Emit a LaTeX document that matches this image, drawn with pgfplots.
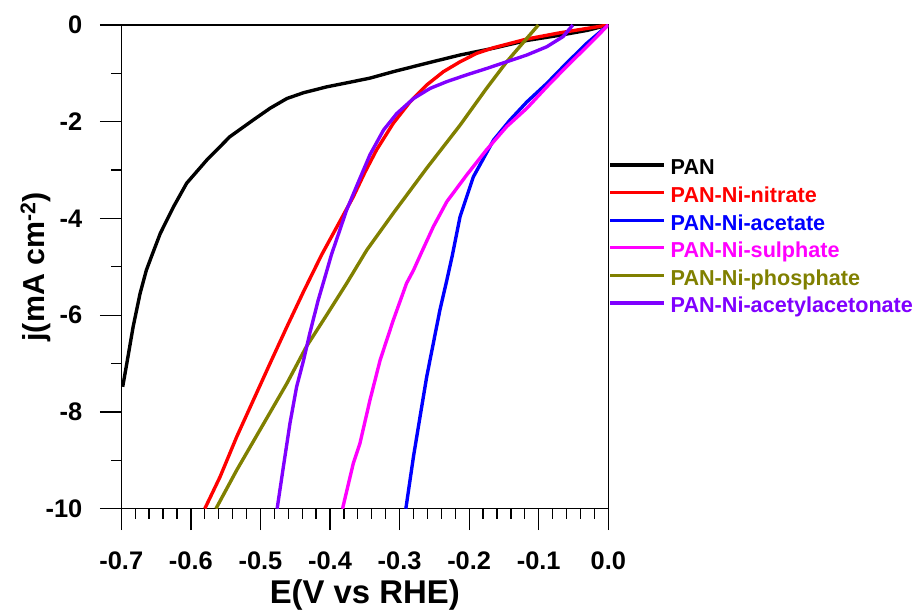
\documentclass[border=0pt]{standalone}
\usepackage{fontspec}
\setmainfont{Liberation Sans}
\usepackage{pgfplots}
\pgfplotsset{compat=1.18}

\definecolor{cblack}{RGB}{0,0,0}
\definecolor{cnitrate}{RGB}{255,0,0}
\definecolor{cacetate}{RGB}{0,0,255}
\definecolor{csulph}{RGB}{255,0,255}
\definecolor{cphos}{RGB}{128,128,0}
\definecolor{cacac}{RGB}{128,0,255}

\begin{document}
\begin{tikzpicture}
\begin{axis}[
  name=ax,
  scale only axis,
  width=487bp, height=483.7bp,
  xmin=-0.7, xmax=0, ymin=-10, ymax=0,
  xtick={-0.7,-0.6,-0.5,-0.4,-0.3,-0.2,-0.1,0},
  minor x tick num=4,
  ytick={-10,-8,-6,-4,-2,0},
  minor ytick={-9,-7,-5,-3,-1},
  xtick pos=bottom, ytick pos=left,
  xtick align=outside, ytick align=outside,
  major tick length=21.5bp, minor tick length=10bp,
  every tick/.append style={black, line width=1.3pt},
  axis line style={line width=1.4pt},
  /pgf/number format/assume math mode=true,
  tick label style={font=\fontsize{25.5}{30}\selectfont\bfseries},
  xticklabel style={yshift=-18bp, /pgf/number format/.cd, fixed, fixed zerofill, precision=1},
  yticklabel style={xshift=-14bp, /pgf/number format/fixed},
  xlabel={E(V vs RHE)},
  ylabel={j(mA cm\textsuperscript{-2})},
  xlabel style={font=\fontsize{33}{38}\selectfont\bfseries,
    at={(axis description cs:0.5,-0.195)}, anchor=base},
  ylabel style={font=\fontsize{30.5}{36}\selectfont\bfseries,
    at={(axis description cs:-0.158,0.5)}, anchor=base},
  legend style={at={(1,0.7234)}, anchor=north west, draw=none, fill=none,
    inner sep=0pt, row sep=0pt, column sep=5bp,
    font=\fontsize{21.7}{26}\selectfont\bfseries,
    nodes={inner sep=0pt, text height=16bp, text depth=11.6bp}},
  legend cell align=left,
  legend image code/.code={\draw[#1, line width=3.2pt] (0bp,7.8bp) -- (54bp,7.8bp);},
]
% PAN
\addplot[cblack, line width=3.4pt] coordinates {
(-0.698,-7.48) (-0.692,-6.99) (-0.683,-6.24) (-0.673,-5.55) (-0.664,-5.07)
(-0.657,-4.80) (-0.644,-4.31) (-0.625,-3.76) (-0.606,-3.27) (-0.577,-2.79)
(-0.544,-2.31) (-0.510,-1.96) (-0.486,-1.72) (-0.462,-1.52) (-0.438,-1.40)
(-0.405,-1.28) (-0.367,-1.17) (-0.343,-1.10) (-0.309,-0.965) (-0.261,-0.79)
(-0.213,-0.62) (-0.165,-0.48) (-0.117,-0.32) (-0.069,-0.21) (-0.030,-0.11) (0,0)};
% PAN-Ni-nitrate
\addplot[cnitrate, line width=3.4pt] coordinates {
(-0.580,-10) (-0.558,-9.34) (-0.534,-8.51) (-0.510,-7.75) (-0.486,-6.99)
(-0.462,-6.24) (-0.438,-5.51) (-0.412,-4.75) (-0.390,-4.17) (-0.3665,-3.55)
(-0.350,-3.05) (-0.333,-2.58) (-0.309,-2.03) (-0.285,-1.59) (-0.261,-1.24)
(-0.237,-0.965) (-0.213,-0.76) (-0.189,-0.585) (-0.165,-0.47) (-0.117,-0.29)
(-0.069,-0.16) (0,0)};
% PAN-Ni-acetate
\addplot[cacetate, line width=3.4pt] coordinates {
(-0.291,-10) (-0.280,-8.92) (-0.2706,-8.10) (-0.261,-7.27) (-0.2515,-6.58)
(-0.242,-5.89) (-0.232,-5.27) (-0.224,-4.75) (-0.213,-3.96) (-0.194,-3.14)
(-0.165,-2.38) (-0.141,-1.96) (-0.117,-1.59) (-0.0885,-1.21) (-0.060,-0.79)
(-0.031,-0.38) (0,0)};
% PAN-Ni-sulphate
\addplot[csulph, line width=3.4pt] coordinates {
(-0.382,-10) (-0.3665,-9.06) (-0.357,-8.65) (-0.3425,-7.75) (-0.328,-6.93)
(-0.309,-6.10) (-0.290,-5.34) (-0.280,-5.07) (-0.270,-4.75) (-0.2515,-4.17)
(-0.232,-3.65) (-0.2035,-3.10) (-0.175,-2.58) (-0.146,-2.10) (-0.117,-1.72)
(-0.0885,-1.28) (-0.060,-0.86) (-0.031,-0.45) (0,0)};
% PAN-Ni-phosphate
\addplot[cphos, line width=3.4pt] coordinates {
(-0.564,-10) (-0.534,-9.20) (-0.5006,-8.37) (-0.462,-7.41) (-0.434,-6.65)
(-0.405,-6.00) (-0.376,-5.34) (-0.347,-4.65) (-0.309,-3.89) (-0.261,-2.96)
(-0.213,-2.07) (-0.175,-1.31) (-0.146,-0.76) (-0.117,-0.275) (-0.1006,0)};
% PAN-Ni-acetylacetonate
\addplot[cacac, line width=3.4pt] coordinates {
(-0.476,-10) (-0.467,-9.13) (-0.4575,-8.23) (-0.448,-7.48) (-0.438,-6.93)
(-0.429,-6.37) (-0.417,-5.69) (-0.407,-5.20) (-0.398,-4.75) (-0.376,-3.82)
(-0.357,-3.17) (-0.3425,-2.68) (-0.323,-2.17) (-0.304,-1.83) (-0.280,-1.52)
(-0.256,-1.31) (-0.232,-1.17) (-0.2035,-1.03) (-0.175,-0.90) (-0.146,-0.76)
(-0.117,-0.62) (-0.0885,-0.45) (-0.065,-0.24) (-0.051,0)};
\legend{PAN,
  \textcolor{cnitrate}{PAN-Ni-nitrate},
  \textcolor{cacetate}{PAN-Ni-acetate},
  \textcolor{csulph}{PAN-Ni-sulphate},
  \textcolor{cphos}{PAN-Ni-phosphate},
  \textcolor{cacac}{PAN-Ni-acetylacetonate}}
\end{axis}
\pgfresetboundingbox
\path (ax.south west) ++(-121.3bp,-103.3bp) rectangle ++(916bp,612bp);
\end{tikzpicture}
\end{document}
